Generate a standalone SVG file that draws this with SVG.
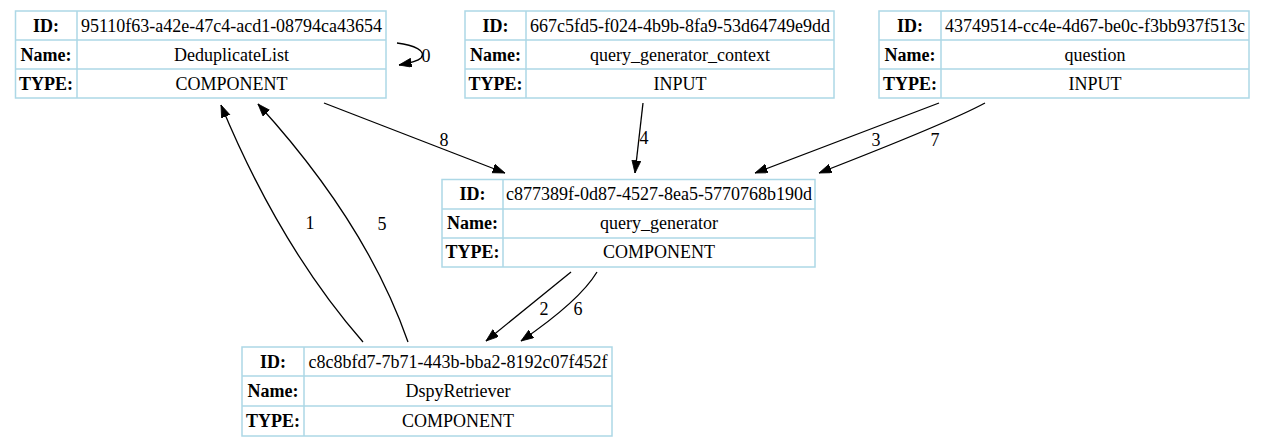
<svg xmlns="http://www.w3.org/2000/svg" width="1265" height="447" viewBox="0 0 1265 447">
<style>
  .box { fill: #ffffff; stroke: #add8e6; stroke-width: 1.5; }
  .grid { stroke: #add8e6; stroke-width: 1.5; fill: none; }
  .lbl { font-family: "Liberation Serif", "Times New Roman", serif; font-size: 18px; font-weight: bold; text-anchor: middle; fill: #000; }
  .val { font-family: "Liberation Serif", "Times New Roman", serif; font-size: 18px; text-anchor: middle; fill: #000; }
  .edge { fill: none; stroke: #000; stroke-width: 1.3; marker-end: url(#arr); }
  .elbl { font-family: "Liberation Serif", "Times New Roman", serif; font-size: 18px; text-anchor: middle; fill: #000; }
</style>
<defs>
  <marker id="arr" markerUnits="userSpaceOnUse" markerWidth="14" markerHeight="10" refX="12.5" refY="4.5" orient="auto">
    <path d="M0,0 L12.5,4.5 L0,9 z" fill="#000" stroke="#000" stroke-width="0.8"/>
  </marker>
</defs>
<rect width="1265" height="447" fill="#ffffff"/>

<g id="connectors">
  <path class="edge" d="M397,43 C414,45 427,51 421,58 C418,61 410,63 399,65"/>
  <text class="elbl" x="426" y="62">0</text>
  <path class="edge" d="M324,103 L505,173"/>
  <text class="elbl" x="444" y="146">8</text>
  <path class="edge" d="M643,103 L635,173"/>
  <text class="elbl" x="644" y="144">4</text>
  <path class="edge" d="M939,103 L755,173"/>
  <text class="elbl" x="876" y="146">3</text>
  <path class="edge" d="M985,103 Q949,122.5 819,173"/>
  <text class="elbl" x="935" y="146">7</text>
  <path class="edge" d="M363,342 Q280,247 221,105"/>
  <text class="elbl" x="310" y="229">1</text>
  <path class="edge" d="M408,342 Q366.5,223 258,104"/>
  <text class="elbl" x="382" y="230">5</text>
  <path class="edge" d="M571,272 L486,341"/>
  <text class="elbl" x="544" y="315">2</text>
  <path class="edge" d="M597,272 Q579.5,301 521,341"/>
  <text class="elbl" x="578" y="315">6</text>
</g>

<g id="node-deduplicatelist">
  <rect class="box" x="15.5" y="11" width="370.5" height="87"/>
  <path class="grid" d="M77,11 V98 M15.5,40 H386 M15.5,69 H386"/>
  <text class="lbl" x="46" y="31.5">ID:</text>
  <text class="val" x="231.5" y="31.5">95110f63-a42e-47c4-acd1-08794ca43654</text>
  <text class="lbl" x="46" y="60.5">Name:</text>
  <text class="val" x="231.5" y="60.5">DeduplicateList</text>
  <text class="lbl" x="46" y="89.5">TYPE:</text>
  <text class="val" x="231.5" y="89.5">COMPONENT</text>
</g>

<g id="node-query-generator-context">
  <rect class="box" x="465" y="11" width="369" height="87"/>
  <path class="grid" d="M526,11 V98 M465,40 H834 M465,69 H834"/>
  <text class="lbl" x="495.5" y="31.5">ID:</text>
  <text class="val" x="680" y="31.5">667c5fd5-f024-4b9b-8fa9-53d64749e9dd</text>
  <text class="lbl" x="495.5" y="60.5">Name:</text>
  <text class="val" x="680" y="60.5">query_generator_context</text>
  <text class="lbl" x="495.5" y="89.5">TYPE:</text>
  <text class="val" x="680" y="89.5">INPUT</text>
</g>

<g id="node-question">
  <rect class="box" x="879" y="11" width="370" height="87"/>
  <path class="grid" d="M941,11 V98 M879,40 H1249 M879,69 H1249"/>
  <text class="lbl" x="910" y="31.5">ID:</text>
  <text class="val" x="1095" y="31.5">43749514-cc4e-4d67-be0c-f3bb937f513c</text>
  <text class="lbl" x="910" y="60.5">Name:</text>
  <text class="val" x="1095" y="60.5">question</text>
  <text class="lbl" x="910" y="89.5">TYPE:</text>
  <text class="val" x="1095" y="89.5">INPUT</text>
</g>

<g id="node-query-generator">
  <rect class="box" x="442" y="179.5" width="373" height="87.5"/>
  <path class="grid" d="M503,179.5 V267 M442,209 H815 M442,238 H815"/>
  <text class="lbl" x="472.5" y="200">ID:</text>
  <text class="val" x="659" y="200">c877389f-0d87-4527-8ea5-5770768b190d</text>
  <text class="lbl" x="472.5" y="229">Name:</text>
  <text class="val" x="659" y="229">query_generator</text>
  <text class="lbl" x="472.5" y="258">TYPE:</text>
  <text class="val" x="659" y="258">COMPONENT</text>
</g>

<g id="node-dspyretriever">
  <rect class="box" x="242" y="347" width="370" height="89"/>
  <path class="grid" d="M304,347 V436 M242,376 H612 M242,406 H612"/>
  <text class="lbl" x="273" y="367.5">ID:</text>
  <text class="val" x="458" y="367.5">c8c8bfd7-7b71-443b-bba2-8192c07f452f</text>
  <text class="lbl" x="273" y="397">Name:</text>
  <text class="val" x="458" y="397">DspyRetriever</text>
  <text class="lbl" x="273" y="427">TYPE:</text>
  <text class="val" x="458" y="427">COMPONENT</text>
</g>
</svg>
